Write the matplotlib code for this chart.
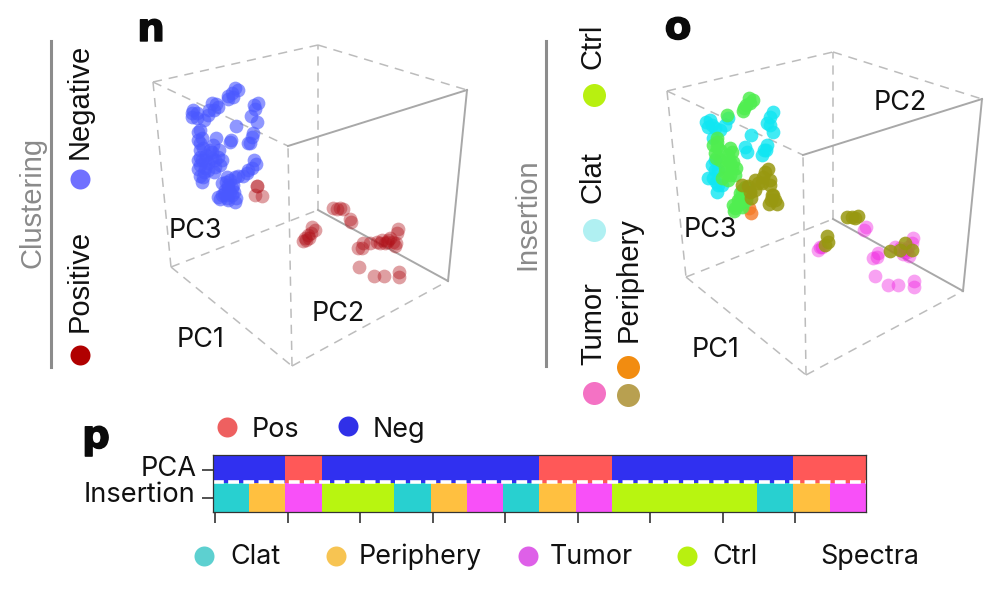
import matplotlib
matplotlib.use("Agg")
import matplotlib.pyplot as plt
import matplotlib.patheffects as pe
from matplotlib.colors import ListedColormap
import numpy as np

SANS = "Liberation Sans"
UI = "Inter"

# panel n (projected positions, read in picture units)
neg_x = [235,238,232,228,212,218,214,208,193,192,197,258,255,251,257,236,200,198,202,200,216,213,231,230,253,252,248,200,212,218,202,208,215,198,205,220,254,252,247,202,203,227,235,222,228,233,225,230,220,227,235,232,
         226,230,232,224,228,222,236,218,228,234,226,198,203,200,206,212,205,198,210,215,200,208,214,222,219,204,200,216,209,197,192,204,228,233,248,256,243,238,250,254]
neg_y = [88,90,93,99,103,107,110,115,110,117,118,103,109,116,122,126,130,132,138,143,138,145,140,142,133,137,143,150,152,157,160,163,167,169,168,165,160,168,173,182,177,177,177,183,185,185,190,192,199,198,202,195,
         182,180,188,194,200,195,198,197,188,192,195,140,148,157,155,158,160,160,150,160,165,170,172,160,150,172,176,104,110,113,113,120,96,97,170,164,176,176,143,105]
pos_x = [257,257,255,262,333,340,343,337,350,351,312,311,308,305,303,398,397,363,362,358,377,382,388,393,387,396,359,374,384,399,399,385,390,380,370,395,309,306,315]
pos_y = [186,186,195,196,208,208,209,209,219,222,227,233,235,238,241,229,233,243,248,248,242,240,240,242,242,243,267,276,276,272,277,243,238,243,243,246,238,240,230]

# panel o
clat_x = [773,770,767,773,751,710,708,715,728,725,713,767,764,762,745,747,715,715,713,718,717,712,706,720,712,718,708,716,722,770,766]
clat_y = [112,117,123,132,135,120,127,128,118,125,138,145,150,155,147,152,160,170,178,185,192,125,122,130,165,170,178,182,185,125,150]
ctrl_x = [749,753,746,743,727,717,717,715,730,728,730,725,732,730,745,740,747,738,743,735,742,734,717,720,713,716,728,733,725,735,728,722,732,736,720,742,748,746,738,733,740,750,745,750,744]
ctrl_y = [98,100,105,111,115,138,147,153,148,155,162,167,168,175,187,193,195,200,202,208,207,211,142,150,145,158,160,162,172,175,180,178,152,168,160,190,188,200,205,205,198,192,193,103,108]
peri_x = [768,763,770,758,742,750,751,772,769,777,773,847,852,858,855,827,828,825,890,905,912,900,765,755,762,748,755,770,775,771]
peri_y = [169,177,180,183,185,192,198,195,204,204,195,217,217,216,218,236,242,245,251,243,250,250,172,180,183,186,190,185,200,200]
orange_x = [751,749]
orange_y = [213,208]
tumor_x = [866,864,820,818,822,913,912,878,877,873,895,905,907,875,888,898,914,914,900,908,903,909]
tumor_y = [227,230,247,250,247,238,243,253,257,258,247,250,252,276,285,285,281,287,248,247,254,256]

# panel p
pca_row = ["Neg"]*2 + ["Pos"] + ["Neg"]*6 + ["Pos"]*2 + ["Neg"]*5 + ["Pos"]*2
ins_row = ["Clat","Periphery","Tumor","Ctrl","Ctrl","Clat","Periphery","Tumor","Clat","Periphery","Tumor","Ctrl","Ctrl","Ctrl","Ctrl","Clat","Periphery","Tumor"]
row_labels = ["PCA", "Insertion"]

cell_colors = {"Neg":"#3030f0","Pos":"#ff5858","Clat":"#28d0d0","Periphery":"#ffc040","Tumor":"#f850f8","Ctrl":"#b8f510"}

W, H = 1000, 590
fig = plt.figure(figsize=(10, 5.9), dpi=100, facecolor="white")
ov = fig.add_axes([0, 0, 1, 1])
ov.set_xlim(0, W); ov.set_ylim(H, 0); ov.axis("off")

def box(v):
    solid = [("f","r"),("r","br"),("br","bb")]
    dash = [("l","f"),("l","bl"),("bl","fb"),("fb","f"),("fb","br"),("bl","bb"),("bb","t"),("l","t"),("t","r")]
    for a,b in dash:
        ov.plot([v[a][0],v[b][0]],[v[a][1],v[b][1]],color="#bcbcbc",lw=1.1,ls=(0,(6,4.5)),zorder=1)
    for a,b in solid:
        ov.plot([v[a][0],v[b][0]],[v[a][1],v[b][1]],color="#a8a8a8",lw=1.4,zorder=1)

box(dict(l=(153,82),f=(288,146),r=(467,90),br=(448,281),fb=(292,366),bl=(171,267),bb=(318,210),t=(318,45)))
box(dict(l=(667,91),f=(803,155),r=(982,99),br=(963,291),fb=(806,375),bl=(686,277),bb=(833,219),t=(833,52)))

S = 98
def pts(x,y,c,a,z=3):
    ov.scatter(x,y,s=S,c=c,alpha=a,linewidths=0,zorder=z)
pts(neg_x,neg_y,"#4a58ff",0.62)
pts(pos_x,pos_y,"#b01018",0.4)
pts(clat_x,clat_y,"#10e6f2",0.8)
pts(orange_x,orange_y,"#f57a28",0.8)
pts(ctrl_x,ctrl_y,"#50ee50",0.85,4)
pts(tumor_x,tumor_y,"#f020e0",0.42)
pts(peri_x,peri_y,"#989810",0.85,4)

# side legends
ov.plot([51,51],[41,367],color="#8c8c8c",lw=2.2)
ov.plot([546,546],[41,366],color="#8c8c8c",lw=2.2)
def vt(x,y,s,size=21,color="#111111",fam=SANS):
    ov.text(x,y,s,rotation=90,ha="center",va="center",fontsize=size,color=color,family=fam)
vt(32,202,"Clustering",color="#8a8a8a")
vt(80,101,"Negative")
vt(80,281,"Positive")
vt(527,214,"Insertion",color="#8a8a8a")
vt(593,46,"Ctrl")
vt(593,177,"Clat")
vt(593,324,"Tumor")
vt(629,280,"Periphery")
def dot(x,y,c,d):
    ov.scatter([x],[y],s=(d*0.72)**2,c=c,linewidths=0,zorder=5)
dot(80,179,"#7070ff",20); dot(80,355,"#b00000",20)
dot(593.5,95,"#b8f010",23); dot(593.5,230,"#b0f0f2",23); dot(593.5,393,"#f472c4",23)
dot(628,367,"#f28c10",23); dot(628,395,"#b8a050",23)

def ht(x,y,s,size=19.4,ha="center"):
    ov.text(x,y,s,ha=ha,va="center",fontsize=size,color="#111111",family=UI)
ht(195,231,"PC3"); ht(201,340,"PC1"); ht(338,314,"PC2")
ht(710,230,"PC3"); ht(716,350,"PC1"); ht(900,103,"PC2")

for x,y,s in [(151,30,"n"),(678,28,"o"),(96,437,"p")]:
    ov.text(x,y,s,ha="center",va="center",fontsize=28,fontweight="black",color="#0a0a0a",family="DejaVu Sans",
            path_effects=[pe.withStroke(linewidth=1.0,foreground="#0a0a0a")])

# heatmap
names = list(cell_colors)
grid = np.array([[names.index(v) for v in pca_row],[names.index(v) for v in ins_row]])
ax = fig.add_axes([213.3/W, 1-511.5/H, 652.7/W, 56.5/H], zorder=3)
ax.imshow(grid,aspect="auto",cmap=ListedColormap([cell_colors[n] for n in names]),
          vmin=-0.5,vmax=len(names)-0.5,interpolation="nearest")
ax.axhline(0.47,color="white",lw=2.6,ls=(0,(3.0,1.2)))
ax.set_yticks([0.03,1.03]); ax.set_yticklabels([])
ax.set_xticks(np.arange(0,18,2)-0.45); ax.set_xticklabels([])
ax.tick_params(axis="y",length=8,width=1.1,color="#222222")
ax.tick_params(axis="x",length=8,width=1.1,color="#222222")
for sp in ax.spines.values():
    sp.set_linewidth(0.9); sp.set_color("#333333")
ov.text(197,469,row_labels[0],ha="right",va="center",fontsize=19.6,color="#111111",family=UI)
ov.text(195,495,row_labels[1],ha="right",va="center",fontsize=19.6,color="#111111",family=UI)

dot(227,427,"#ee6060",20); ht(252,430,"Pos",ha="left")
dot(348,426,"#3030e8",20); ht(373,430,"Neg",ha="left")
dot(204,556,"#5dd0d0",20); ht(230,557,"Clat",ha="left")
dot(336,556,"#f7c452",20); ht(359,557,"Periphery",ha="left")
dot(528,556,"#de60e8",20); ht(550,557,"Tumor",ha="left")
dot(687,556,"#b8f010",20); ht(712,557,"Ctrl",ha="left")
ht(820,557,"Spectra",ha="left")

fig.savefig("out.png",dpi=100,facecolor="white")
